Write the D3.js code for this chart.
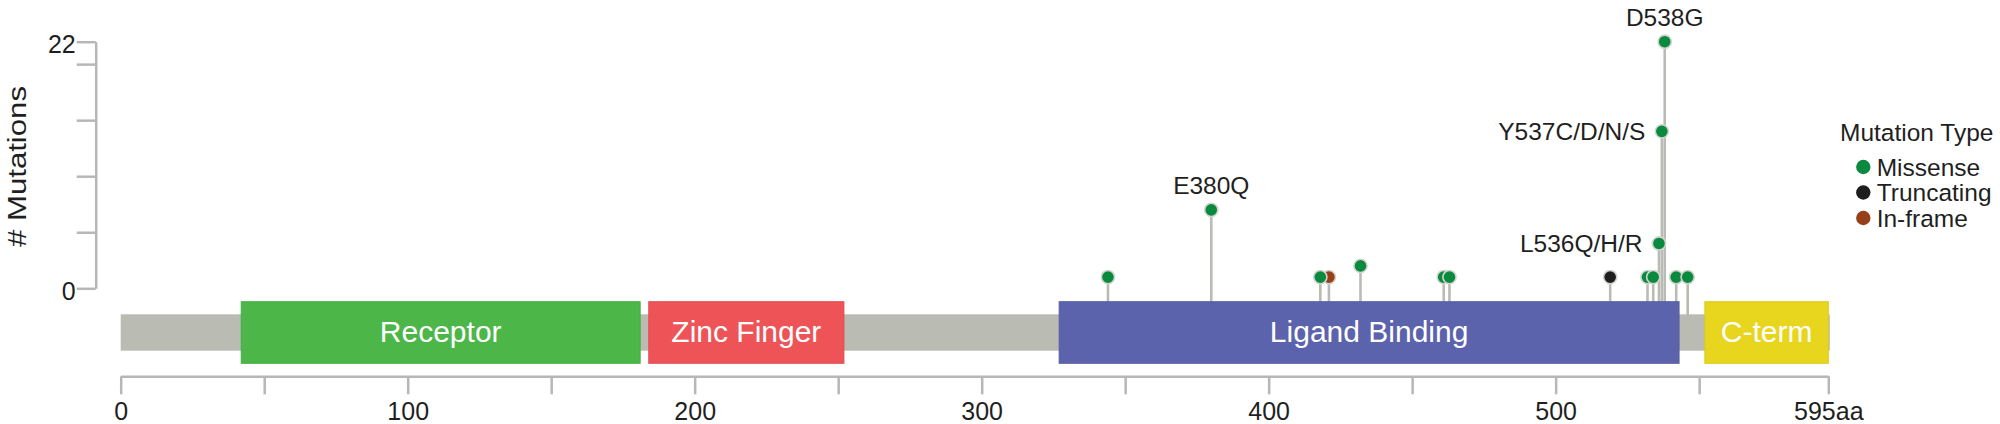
<!DOCTYPE html>
<html>
<head>
<meta charset="utf-8">
<script src="https://cdn.jsdelivr.net/npm/d3@7"></script>
<style>
  html, body { margin: 0; padding: 0; background: #ffffff; }
  svg { display: block; font-family: "Liberation Sans", Arial, Helvetica, sans-serif; }
</style>
</head>
<body>
<svg id="chart" width="2000" height="424"></svg>
<script>
// ---------------- data ----------------
const proteinLength = 595;

const domainNames  = ["Receptor", "Zinc Finger", "Ligand Binding", "C-term"];
const domainStarts = [42, 184, 327, 552];
const domainEnds   = [181, 252, 543, 595];
const domainColors = ["#4cb648", "#ee5357", "#5c63ad", "#e8d51e"];

// mutations (drawn in this order)
const mutPositions = [344, 380, 421, 418, 432, 461, 463, 519, 532, 534, 536, 537, 538, 542, 546];
const mutCounts    = [1,   7,   1,   1,   2,   1,   1,   1,   1,   1,   4,   14,  22,  1,   1];
const mutTypes     = ["Missense","Missense","In-frame","Missense","Missense","Missense","Missense",
                      "Truncating","Missense","Missense","Missense","Missense","Missense","Missense","Missense"];
const mutLabels    = ["", "E380Q", "", "", "", "", "", "", "", "", "L536Q/H/R", "Y537C/D/N/S", "D538G", "", ""];
const mutLabelSide = ["", "top",   "", "", "", "", "", "", "", "", "left",      "left",        "top",   "", ""];

const typeNames  = ["Missense", "Truncating", "In-frame"];
const typeColors = ["#0a8a3e", "#1e1e1e", "#954019"];

const xTickValues = [0, 50, 100, 150, 200, 250, 300, 350, 400, 450, 500, 550, 595];
const xTickLabels = ["0", "", "100", "", "200", "", "300", "", "400", "", "500", "", "595aa"];
const yTickValues = [0, 5, 10, 15, 20, 22];
const yTickLabels = ["0", "", "", "", "", "22"];
const yMax = 22;

// ---------------- layout ----------------
const svg = d3.select("#chart");
const x = d3.scaleLinear().domain([0, proteinLength]).range([120.7, 1828.3]);
const y = d3.scaleLinear().domain([0, yMax]).range([288.3, 41.7]);
const color = d3.scaleOrdinal().domain(typeNames).range(typeColors);

const axisColor = "#b7b7b7";
const stemColor = "#b9bbb4";
const textColor = "#1f1f1f";

const backboneTop = 314.3, backboneBottom = 350.7;
const domainTop = 301.7, domainBottom = 363.3;
const xAxisY = 376.3;

// y axis
const yAxis = d3.axisLeft(y)
  .tickValues(yTickValues)
  .tickSize(19)
  .tickSizeOuter(0)
  .tickPadding(1)
  .tickFormat((d, i) => yTickLabels[i]);
const gy = svg.append("g").attr("transform", "translate(95.7,0)").call(yAxis);
gy.select(".domain").attr("stroke", axisColor).attr("stroke-width", 2.5);
gy.selectAll(".tick line").attr("stroke", axisColor).attr("stroke-width", 2.5);
gy.selectAll(".tick text").attr("fill", textColor).attr("font-size", 25).attr("dy", "0.44em")
  .attr("font-family", "'Liberation Sans', Arial, Helvetica, sans-serif");

// y title
svg.append("text")
  .attr("transform", "translate(26,166.5) rotate(-90)")
  .attr("text-anchor", "middle")
  .attr("font-size", 25)
  .attr("fill", textColor)
  .attr("textLength", 161)
  .attr("lengthAdjust", "spacingAndGlyphs")
  .text("# Mutations");

// x axis
const xAxis = d3.axisBottom(x)
  .tickValues(xTickValues)
  .tickSize(18)
  .tickSizeOuter(0)
  .tickPadding(8)
  .tickFormat((d, i) => xTickLabels[i]);
const gx = svg.append("g").attr("transform", `translate(0,${xAxisY})`).call(xAxis);
gx.select(".domain").attr("stroke", axisColor).attr("stroke-width", 2.5);
gx.selectAll(".tick line").attr("stroke", axisColor).attr("stroke-width", 2.5);
gx.selectAll(".tick text").attr("fill", textColor).attr("font-size", 25)
  .attr("font-family", "'Liberation Sans', Arial, Helvetica, sans-serif");

// backbone
svg.append("rect")
  .attr("x", x(0)).attr("y", backboneTop)
  .attr("width", x(proteinLength) - x(0) + 1.5)
  .attr("height", backboneBottom - backboneTop)
  .attr("fill", "#babcb4");

// mutation data
const muts = mutPositions.map((p, i) => ({
  pos: p, count: mutCounts[i], type: mutTypes[i], label: mutLabels[i], side: mutLabelSide[i]
}));

// stems
svg.append("g").selectAll("line").data(muts).join("line")
  .attr("x1", d => x(d.pos)).attr("x2", d => x(d.pos))
  .attr("y1", d => y(d.count)).attr("y2", backboneTop + 1)
  .attr("stroke", stemColor).attr("stroke-width", 2.6);

// domains
const domains = domainNames.map((n, i) => ({name: n, start: domainStarts[i], end: domainEnds[i], color: domainColors[i]}));
const gd = svg.append("g");
gd.selectAll("rect").data(domains).join("rect")
  .attr("x", d => x(d.start)).attr("y", domainTop)
  .attr("width", d => x(d.end) - x(d.start))
  .attr("height", domainBottom - domainTop)
  .attr("fill", d => d.color)
  .attr("stroke", d => d3.color(d.color).darker(0.15))
  .attr("stroke-width", 1);
gd.selectAll("text").data(domains).join("text")
  .attr("x", d => (x(d.start) + x(d.end)) / 2)
  .attr("y", (domainTop + domainBottom) / 2)
  .attr("dy", "0.31em")
  .attr("text-anchor", "middle")
  .attr("font-size", 30)
  .attr("fill", "#ffffff")
  .text(d => d.name);

// heads
svg.append("g").selectAll("circle").data(muts).join("circle")
  .attr("cx", d => x(d.pos)).attr("cy", d => y(d.count))
  .attr("r", 6.6)
  .attr("fill", d => color(d.type))
  .attr("stroke", "#d4d4d0").attr("stroke-width", 1.6);

// labels
const lab = muts.filter(d => d.label);
svg.append("g").selectAll("text").data(lab).join("text")
  .attr("x", d => d.side === "left" ? x(d.pos) - 16.5 : x(d.pos))
  .attr("y", d => d.side === "left" ? y(d.count) : y(d.count) - 16)
  .attr("dy", d => d.side === "left" ? "0.36em" : 0)
  .attr("text-anchor", d => d.side === "left" ? "end" : "middle")
  .attr("font-size", 24.5)
  .attr("fill", textColor)
  .text(d => d.label);

// legend
const lg = svg.append("g").attr("transform", "translate(1840,0)");
lg.append("text").attr("x", 0).attr("y", 140.7)
  .attr("font-size", 24.5).attr("fill", textColor).text("Mutation Type");
const items = lg.selectAll("g.item").data(typeNames).join("g")
  .attr("class", "item")
  .attr("transform", (d, i) => `translate(0,${167 + i * 25.5})`);
items.append("circle").attr("cx", 23.3).attr("cy", 0).attr("r", 7.2).attr("fill", d => color(d));
items.append("text").attr("x", 36.7).attr("y", 0).attr("dy", "0.35em")
  .attr("font-size", 24.5).attr("fill", textColor).text(d => d);
</script>
</body>
</html>
